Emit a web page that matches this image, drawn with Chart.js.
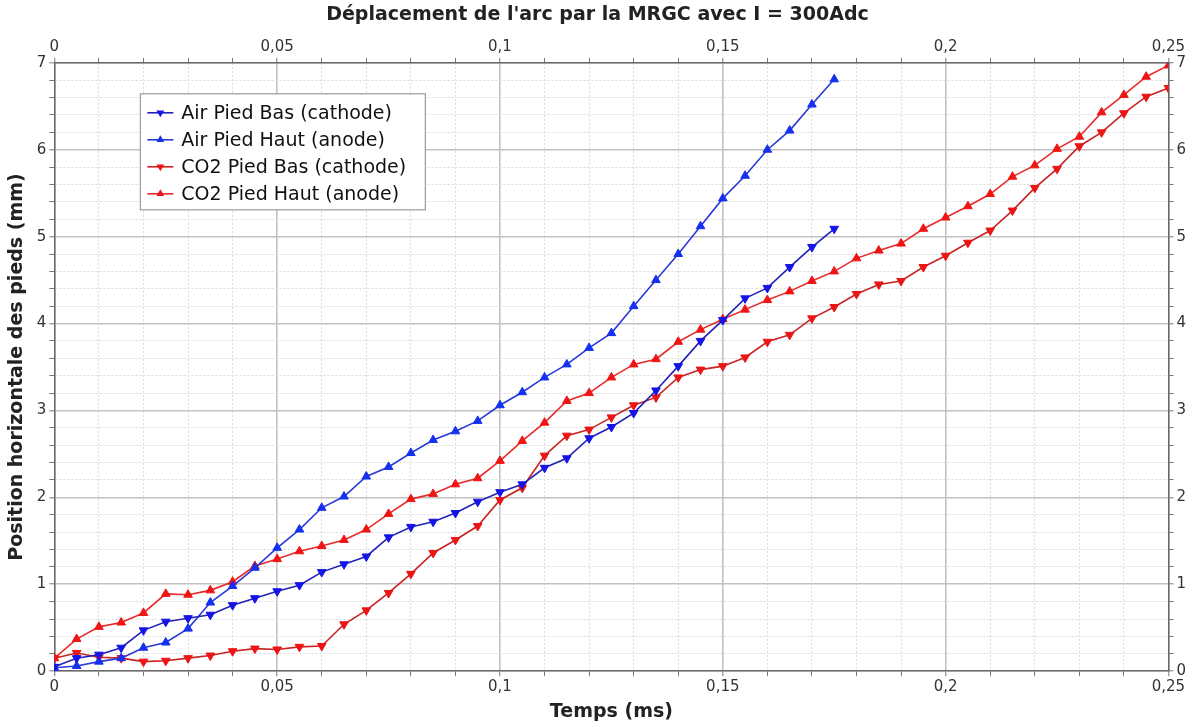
<!DOCTYPE html>
<html lang="fr">
<head>
  <meta charset="UTF-8" />
  <title>Déplacement de l'arc par la MRGC</title>
  <script src="https://cdn.jsdelivr.net/npm/chart.js"></script>
  <style>
    html, body {
      margin: 0;
      padding: 0;
      background: #fff;
    }
    canvas {
      display: block;
    }
  </style>
</head>
<body>
  <canvas id="arcChart" width="1195" height="727"></canvas>

  <script>
    // temps (ms), un point toutes les 0,005 ms
    const temps = [
      0, 0.005, 0.01, 0.015, 0.02, 0.025, 0.03, 0.035, 0.04, 0.045,
      0.05, 0.055, 0.06, 0.065, 0.07, 0.075, 0.08, 0.085, 0.09, 0.095,
      0.1, 0.105, 0.11, 0.115, 0.12, 0.125, 0.13, 0.135, 0.14, 0.145,
      0.15, 0.155, 0.16, 0.165, 0.17, 0.175, 0.18, 0.185, 0.19, 0.195,
      0.2, 0.205, 0.21, 0.215, 0.22, 0.225, 0.23, 0.235, 0.24, 0.245, 0.25
    ];

    const airPiedBas = [
      0.05, 0.15, 0.19, 0.27, 0.47, 0.57, 0.61, 0.65, 0.76, 0.84,
      0.92, 0.99, 1.14, 1.23, 1.32, 1.54, 1.66, 1.72, 1.82, 1.95,
      2.06, 2.15, 2.34, 2.45, 2.68, 2.81, 2.97, 3.23, 3.51, 3.80,
      4.04, 4.29, 4.41, 4.65, 4.88, 5.09
    ];

    const airPiedHaut = [
      0.04, 0.06, 0.11, 0.15, 0.27, 0.33, 0.49, 0.79, 0.98, 1.19,
      1.42, 1.63, 1.88, 2.01, 2.24, 2.35, 2.51, 2.66, 2.76, 2.88,
      3.06, 3.21, 3.38, 3.53, 3.72, 3.89, 4.20, 4.50, 4.80, 5.12,
      5.44, 5.70, 6.00, 6.22, 6.52, 6.81
    ];

    const co2PiedBas = [
      0.15, 0.21, 0.16, 0.15, 0.11, 0.12, 0.15, 0.18, 0.23, 0.26,
      0.25, 0.28, 0.29, 0.54, 0.70, 0.90, 1.12, 1.36, 1.51, 1.67,
      1.97, 2.11, 2.48, 2.71, 2.78, 2.92, 3.06, 3.15, 3.38, 3.47,
      3.51, 3.61, 3.79, 3.87, 4.06, 4.19, 4.34, 4.45, 4.49, 4.65,
      4.78, 4.93, 5.07, 5.30, 5.56, 5.78, 6.04, 6.20, 6.42, 6.61, 6.71
    ];

    const co2PiedHaut = [
      0.15, 0.37, 0.51, 0.56, 0.67, 0.89, 0.88, 0.93, 1.03, 1.21,
      1.29, 1.38, 1.44, 1.51, 1.63, 1.81, 1.98, 2.04, 2.15, 2.22,
      2.42, 2.65, 2.86, 3.11, 3.20, 3.38, 3.53, 3.59, 3.79, 3.93,
      4.05, 4.16, 4.27, 4.37, 4.49, 4.60, 4.75, 4.84, 4.92, 5.09,
      5.22, 5.35, 5.49, 5.69, 5.82, 6.01, 6.15, 6.43, 6.63, 6.84, 6.97
    ];

    const seriesLabels = [
      'Air Pied Bas (cathode)',
      'Air Pied Haut (anode)',
      'CO2 Pied Bas (cathode)',
      'CO2 Pied Haut (anode)'
    ];

    const FONT = '"DejaVu Sans", Verdana, sans-serif';

    function points(values) {
      return values.map((v, i) => ({ x: temps[i], y: v }));
    }

    function isMultiple(v, step) {
      return Math.abs(Math.round(v / step) * step - v) < 1e-6;
    }

    function xLabel(v) {
      if (!isMultiple(v, 0.05)) return '';
      return String(Math.round(v * 100) / 100).replace('.', ',');
    }

    function yLabel(v) {
      if (!isMultiple(v, 1)) return '';
      return String(Math.round(v));
    }

    // grille principale pleine, grille secondaire pointillee
    function major(c, step) {
      return c.tick && isMultiple(c.tick.value, step);
    }

    function gridFor(step, onArea) {
      return {
        drawOnChartArea: onArea,
        color: (c) => major(c, step) ? '#c2c2c2' : '#dadada',
        lineWidth: (c) => major(c, step) ? 1.6 : 1,
        tickColor: '#777',
        tickWidth: 1,
        tickLength: 5,
        tickBorderDash: []
      };
    }

    function borderFor(step) {
      return {
        color: '#6a6a6a',
        width: 1.5,
        dash: (c) => (!c.tick || major(c, step)) ? [] : [2, 2]
      };
    }

    function lineSet(label, values, lineColor, markerColor, down) {
      return {
        label: label,
        data: points(values),
        borderColor: lineColor,
        backgroundColor: markerColor,
        borderWidth: 1.6,
        pointStyle: 'triangle',
        rotation: down ? 180 : 0,
        pointRadius: 5,
        pointBorderWidth: 1,
        pointBorderColor: markerColor,
        pointBackgroundColor: markerColor,
        tension: 0,
        fill: false
      };
    }

    // legende encadree posee dans la zone de trace
    const boxLegend = {
      id: 'boxLegend',
      afterDatasetsDraw(chart) {
        const ctx = chart.ctx;
        const area = chart.chartArea;
        const x = area.left + 86;
        const y = area.top + 31;
        const w = 285;
        const h = 116;
        ctx.save();
        ctx.fillStyle = '#fff';
        ctx.strokeStyle = '#9a9a9a';
        ctx.lineWidth = 1.2;
        ctx.fillRect(x, y, w, h);
        ctx.strokeRect(x, y, w, h);
        ctx.font = '19px ' + FONT;
        ctx.textBaseline = 'middle';
        chart.data.datasets.forEach((ds, i) => {
          const ly = y + 19 + i * 27;
          ctx.strokeStyle = ds.borderColor;
          ctx.lineWidth = 1.6;
          ctx.beginPath();
          ctx.moveTo(x + 7, ly);
          ctx.lineTo(x + 33, ly);
          ctx.stroke();
          ctx.fillStyle = ds.pointBackgroundColor;
          const r = 4.5;
          const d = ds.rotation === 180 ? -1 : 1;
          ctx.beginPath();
          ctx.moveTo(x + 20, ly - d * r);
          ctx.lineTo(x + 20 + r * 0.87, ly + d * r * 0.5);
          ctx.lineTo(x + 20 - r * 0.87, ly + d * r * 0.5);
          ctx.closePath();
          ctx.fill();
          ctx.fillStyle = '#111';
          ctx.fillText(ds.label, x + 41, ly + 1);
        });
        ctx.restore();
      }
    };

    const tickFont = { family: FONT, size: 15 };
    const titleFont = { family: FONT, size: 19, weight: 'bold' };

    new Chart(document.getElementById('arcChart'), {
      type: 'line',
      data: {
        datasets: [
          lineSet(seriesLabels[0], airPiedBas, '#2222b8', '#1414e6', true),
          lineSet(seriesLabels[1], airPiedHaut, '#2a3ad8', '#1530f0', false),
          lineSet(seriesLabels[2], co2PiedBas, '#c82424', '#ec1414', true),
          lineSet(seriesLabels[3], co2PiedHaut, '#e82a2a', '#f01414', false)
        ]
      },
      options: {
        responsive: false,
        devicePixelRatio: 1,
        animation: false,
        layout: { padding: { left: 6, right: 6, top: 2, bottom: 4 } },
        plugins: {
          legend: { display: false },
          tooltip: { enabled: false },
          title: {
            display: true,
            text: "Déplacement de l'arc par la MRGC avec I = 300Adc",
            color: '#222',
            font: titleFont,
            padding: { top: 2, bottom: 9 }
          }
        },
        scales: {
          x: {
            type: 'linear',
            position: 'bottom',
            min: 0,
            max: 0.25,
            grid: gridFor(0.05, true),
            border: borderFor(0.05),
            ticks: {
              stepSize: 0.01,
              autoSkip: false,
              maxRotation: 0,
              padding: 2,
              color: '#333',
              font: tickFont,
              callback: xLabel
            },
            title: {
              display: true,
              text: 'Temps (ms)',
              color: '#222',
              font: titleFont,
              padding: { top: 2, bottom: 0 }
            }
          },
          x2: {
            type: 'linear',
            position: 'top',
            min: 0,
            max: 0.25,
            grid: gridFor(0.05, false),
            border: borderFor(0.05),
            ticks: {
              stepSize: 0.01,
              autoSkip: false,
              maxRotation: 0,
              padding: 2,
              color: '#333',
              font: tickFont,
              callback: xLabel
            }
          },
          y: {
            type: 'linear',
            position: 'left',
            min: 0,
            max: 7,
            grid: gridFor(1, true),
            border: borderFor(1),
            ticks: {
              stepSize: 0.2,
              autoSkip: false,
              padding: 3,
              color: '#333',
              font: tickFont,
              callback: yLabel
            },
            title: {
              display: true,
              text: 'Position horizontale des pieds (mm)',
              color: '#222',
              font: titleFont,
              padding: { top: 0, bottom: 5 }
            }
          },
          y2: {
            type: 'linear',
            position: 'right',
            min: 0,
            max: 7,
            grid: gridFor(1, false),
            border: borderFor(1),
            ticks: {
              stepSize: 0.2,
              autoSkip: false,
              padding: 3,
              color: '#333',
              font: tickFont,
              callback: yLabel
            }
          }
        }
      },
      plugins: [boxLegend]
    });
  </script>
</body>
</html>
